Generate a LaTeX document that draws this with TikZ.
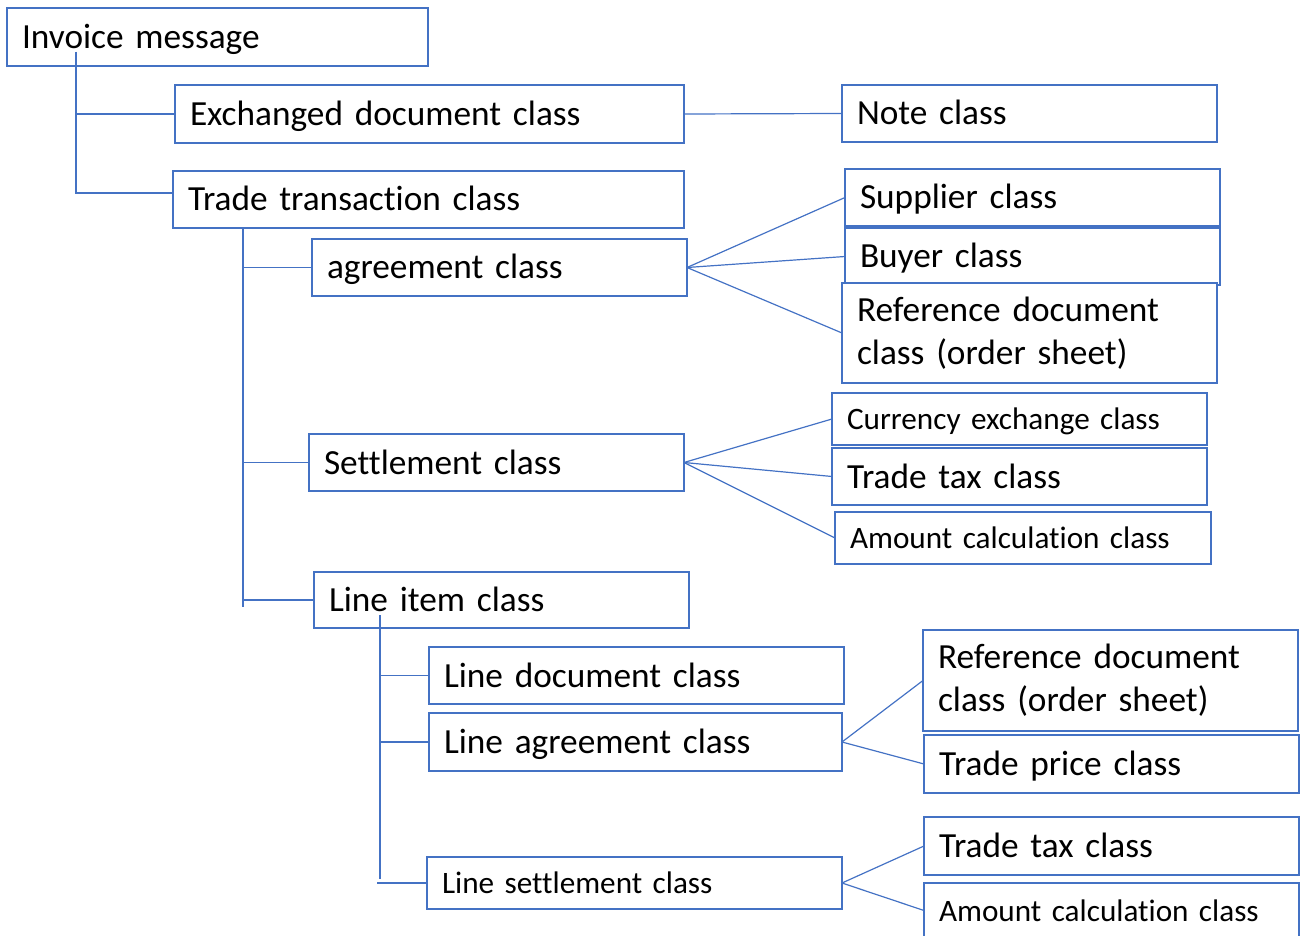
\documentclass[tikz,border=0pt]{standalone}
\usepackage{fontspec}
\setmainfont{Carlito}[RawFeature=-liga]
\definecolor{obl}{RGB}{68,114,196}
\begin{document}
\begin{tikzpicture}[x=1pt,y=-1pt,
  box/.style={draw=obl,line width=1.3pt,fill=white,inner xsep=15pt,inner ysep=0pt,outer sep=0pt,align=left},
  big/.style={font=\fontsize{35.3}{43}\selectfont,text height=23pt,text depth=0pt},
  bigtwo/.style={font=\fontsize{35.3}{43}\selectfont},
  small/.style={font=\fontsize{31.2}{36}\selectfont,text height=21.5pt,text depth=0pt},
  conn/.style={draw=obl,line width=1.2pt}]
\useasboundingbox (0,0) rectangle (1302,936);
\newcommand\mybox[7]{%
  \pgfmathsetmacro\bw{#4-#2}\pgfmathsetmacro\bh{#5-#3}\pgfmathsetmacro\tw{#4-#2-30}%
  \node[box,#6,minimum width=\bw pt,minimum height=\bh pt,text width=\tw pt] (#1) at ({(#2+#4)/2},{(#3+#5)/2}) {#7};}
\mybox{inv}{7}{8}{428}{66}{big}{Invoice message}
\mybox{ex}{175}{85}{684}{143}{big}{Exchanged document class}
\mybox{note}{842}{85}{1217}{142}{big}{Note class}
\mybox{tt}{173}{171}{684}{228}{big}{Trade transaction class}
\mybox{sup}{845}{169}{1220}{226}{big}{Supplier class}
\mybox{buy}{845}{228}{1220}{285}{big}{Buyer class}
\mybox{ref}{842}{283}{1217}{383}{bigtwo}{Reference document\\class (order sheet)}
\mybox{ag}{312}{239}{687}{296}{big}{agreement class}
\mybox{cur}{832}{393}{1207}{445}{small}{Currency exchange class}
\mybox{tax}{832}{448}{1207}{505}{big}{Trade tax class}
\mybox{amt}{835}{512}{1211}{564}{small}{Amount calculation class}
\mybox{st}{309}{434}{684}{491}{big}{Settlement class}
\mybox{li}{314}{572}{689}{628}{big}{Line item class}
\mybox{ld}{429}{647}{844}{704}{big}{Line document class}
\mybox{la}{429}{713}{842}{771}{big}{Line agreement class}
\mybox{reft}{923}{630}{1298}{731}{bigtwo}{Reference document\\class (order sheet)}
\mybox{tp}{924}{735}{1299}{793}{big}{Trade price class}
\mybox{ls}{427}{857}{842}{909}{small}{Line settlement class}
\mybox{taxt}{924}{817}{1299}{875}{big}{Trade tax class}
\mybox{amtt}{924}{883}{1299}{938}{small}{Amount calculation class}
% trunk connectors
\coordinate (v1) at (76,52);
\draw[conn] (v1) |- (ex.west);
\draw[conn] (v1) |- ([yshift=6.5pt]tt.west);
\coordinate (v2) at (243,228);
\coordinate (v2b) at (243,607);
\draw[conn] (v2) -- (v2b);
\draw[conn] (ag.west) -- (ag.west -| v2);
\draw[conn] (st.west) -- (st.west -| v2);
\draw[conn] (li.west) -- (li.west -| v2);
\coordinate (v3) at (380,615);
\coordinate (v3b) at (380,879);
\draw[conn] (v3) -- (v3b);
\draw[conn] (ld.west) -- ++(-50,0);
\draw[conn] (la.west) -- (la.west -| v3);
\draw[conn] (ls.west) -- ++(-50,0);
% fans
\draw[conn] (ex.east) -- (note.west);
\draw[conn] (ag.east) -- (sup.west);
\draw[conn] (ag.east) -- (buy.west);
\draw[conn] (ag.east) -- (ref.west);
\draw[conn] (st.east) -- (cur.west);
\draw[conn] (st.east) -- (tax.west);
\draw[conn] (st.east) -- (amt.west);
\draw[conn] (la.east) -- (reft.west);
\draw[conn] (la.east) -- (tp.west);
\draw[conn] (ls.east) -- (taxt.west);
\draw[conn] (ls.east) -- (amtt.west);
\end{tikzpicture}
\end{document}
